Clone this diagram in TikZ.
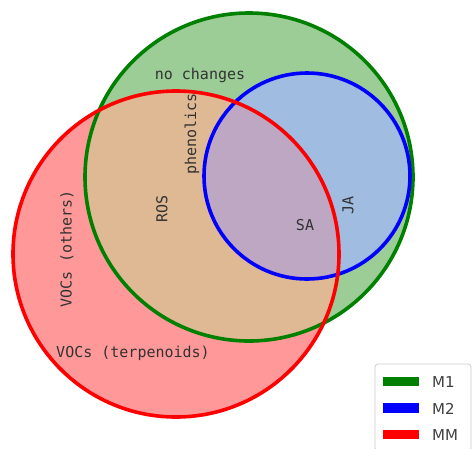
\documentclass[tikz,border=0pt]{standalone}
\usepackage{fontspec}
\newfontfamily\vennmono{DejaVu Sans Mono}
\newfontfamily\vennsans{DejaVu Sans}
\definecolor{gonly}{RGB}{156,205,150}
\definecolor{ronly}{RGB}{255,153,153}
\definecolor{rg}{RGB}{222,185,147}
\definecolor{gb}{RGB}{160,188,224}
\definecolor{rgb}{RGB}{190,167,194}
\definecolor{gline}{RGB}{0,128,0}
\definecolor{bline}{RGB}{0,0,255}
\definecolor{rline}{RGB}{255,0,0}
\definecolor{labelgray}{RGB}{50,50,50}
\begin{document}
\begin{tikzpicture}[x=1pt,y=-1pt,
  setline/.style={line width=3.6pt},
  setlabel/.style={font=\vennmono\fontsize{15}{18}\selectfont, text=labelgray, inner sep=0pt},
  legpatch/.style={minimum width=36pt, minimum height=9.5pt, inner sep=0pt},
  legtext/.style={font=\vennsans\fontsize{15}{17}\selectfont, text=black!75, anchor=west, inner sep=0pt}]
\useasboundingbox (0,0) rectangle (474,448);
% circle geometry
\def\Gc{(249,177) circle (164)}
\def\Bc{(307,176) circle (103)}
\def\Rc{(176,254) circle (163)}
% region fills
\fill[gonly] \Gc;
\fill[ronly] \Rc;
\begin{scope}
  \clip \Rc;
  \fill[rg] \Gc;
\end{scope}
\fill[gb] \Bc;
\begin{scope}
  \clip \Rc;
  \fill[rgb] \Bc;
\end{scope}
% outlines
\draw[setline, gline] \Gc;
\draw[setline, bline] \Bc;
\draw[setline, rline] \Rc;
% region labels
\node[setlabel] (nochg) at (200,75) {no changes};
\node[setlabel, rotate=90] (phen) at (192,134) {phenolics};
\node[setlabel, rotate=90] (ros) at (162,209) {ROS};
\node[setlabel, rotate=90] (vocO) at (67,249) {VOCs (others)};
\node[setlabel] (vocT) at (133,353) {VOCs (terpenoids)};
\node[setlabel] (sa) at (305,225) {SA};
\node[setlabel, rotate=90] (ja) at (348,205) {JA};
% legend
\draw[rounded corners=3pt, draw=black!20, fill=white, fill opacity=0.85, line width=0.8pt] (375,364) rectangle (471,451);
\node[legpatch, fill=gline] (p1) at (401,381.5) {};
\node[legpatch, fill=bline] (p2) at (401,408) {};
\node[legpatch, fill=rline] (p3) at (401,434.5) {};
\node[legtext] (t1) at (432,382) {M1};
\node[legtext] (t2) at (432,408.5) {M2};
\node[legtext] (t3) at (432,435) {MM};
\end{tikzpicture}
\end{document}
